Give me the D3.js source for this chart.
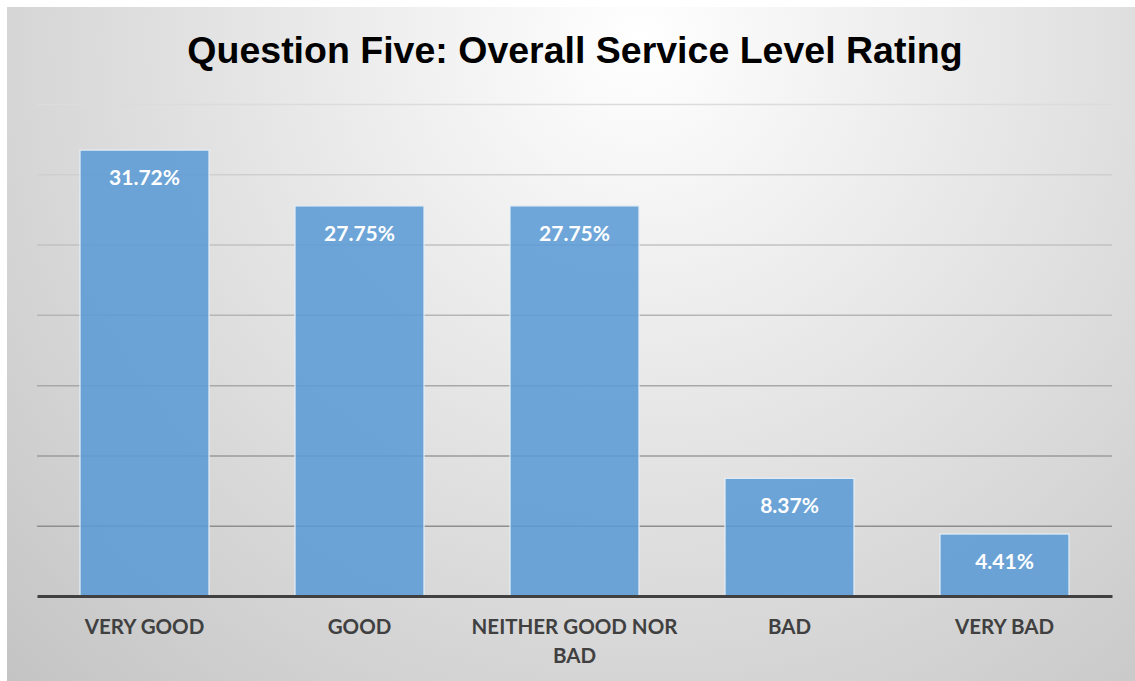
<!DOCTYPE html>
<html><head><meta charset="utf-8">
<script src="https://cdn.jsdelivr.net/npm/d3@7"></script>
<style>body{margin:0;background:#fff}svg{display:block}</style>
</head><body>
<script>
const title = "Question Five: Overall Service Level Rating";
const categories = ["VERY GOOD", "GOOD", "NEITHER GOOD NOR BAD", "BAD", "VERY BAD"];
const values = [31.72, 27.75, 27.75, 8.37, 4.41];
const valueLabels = ["31.72%", "27.75%", "27.75%", "8.37%", "4.41%"];
const yTicks = [0, 5, 10, 15, 20, 25, 30, 35];

const W = 1135, H = 681;
const svg = d3.select("body").append("svg").attr("width", W).attr("height", H);
const defs = svg.append("defs");
const rg = defs.append("radialGradient").attr("id", "bg")
  .attr("gradientUnits", "userSpaceOnUse").attr("cx", 640).attr("cy", 40).attr("r", 900);
rg.append("stop").attr("offset", 0).attr("stop-color", "#ffffff");
rg.append("stop").attr("offset", 1).attr("stop-color", "#c4c4c4");

svg.append("rect").attr("x", 7).attr("y", 7).attr("width", W - 7).attr("height", H - 7)
  .attr("fill", "url(#bg)");

const m = {left: 37, right: 1112, top: 104, bottom: 596};
const x = d3.scaleBand().domain(categories).range([m.left, m.right]).paddingInner(0.4).paddingOuter(0.2);
const y = d3.scaleLinear().domain([0, 35]).range([m.bottom, m.top]);
const gridColor = d3.scaleLinear().domain([35, 5]).range(["#dcdcdc", "#8e8e8e"]);

svg.append("text").attr("x", 575).attr("y", 63).attr("text-anchor", "middle")
  .attr("font-family", "Liberation Sans, Arial, sans-serif").attr("font-weight", "bold")
  .attr("font-size", 37.5).attr("fill", "#000").text(title);

const grid = svg.append("g").attr("transform", `translate(${m.left},0)`)
  .call(d3.axisLeft(y).tickValues(yTicks.slice(1)).tickSize(-(m.right - m.left)).tickFormat(""));
grid.select(".domain").remove();
grid.selectAll(".tick line").attr("stroke", d => gridColor(d)).attr("stroke-width", 1.5);

svg.append("g").selectAll("rect").data(values).join("rect")
  .attr("x", (d, i) => x(categories[i])).attr("width", x.bandwidth())
  .attr("y", d => y(d)).attr("height", d => y(0) - y(d))
  .attr("fill", "#5b9bd5").attr("fill-opacity", 0.88)
  .attr("stroke", "#e6eef6").attr("stroke-width", 1.2);

svg.append("g").selectAll("text").data(values).join("text")
  .attr("x", (d, i) => x(categories[i]) + x.bandwidth() / 2)
  .attr("y", d => y(d) + 35).attr("text-anchor", "middle")
  .attr("font-family", "Lato, 'Open Sans', sans-serif").attr("font-weight", "bold")
  .attr("font-size", 21).attr("fill", "#fff").text((d, i) => valueLabels[i]);

const xa = svg.append("g").attr("transform", `translate(0,${m.bottom})`)
  .call(d3.axisBottom(x).tickSize(0).tickFormat(""));
xa.select(".domain").attr("stroke", "#404040").attr("stroke-width", 3);

const labelWrap = {"NEITHER GOOD NOR BAD": ["NEITHER GOOD NOR", "BAD"]};
categories.forEach(c => {
  const lines = labelWrap[c] || [c];
  const t = svg.append("text").attr("text-anchor", "middle")
    .attr("font-family", "Lato, 'Open Sans', sans-serif").attr("font-weight", "bold")
    .attr("font-size", 20.5).attr("fill", "#404040");
  lines.forEach((l, k) => t.append("tspan").attr("x", x(c) + x.bandwidth() / 2)
    .attr("y", 634 + k * 29).text(l));
});
</script>
</body></html>
